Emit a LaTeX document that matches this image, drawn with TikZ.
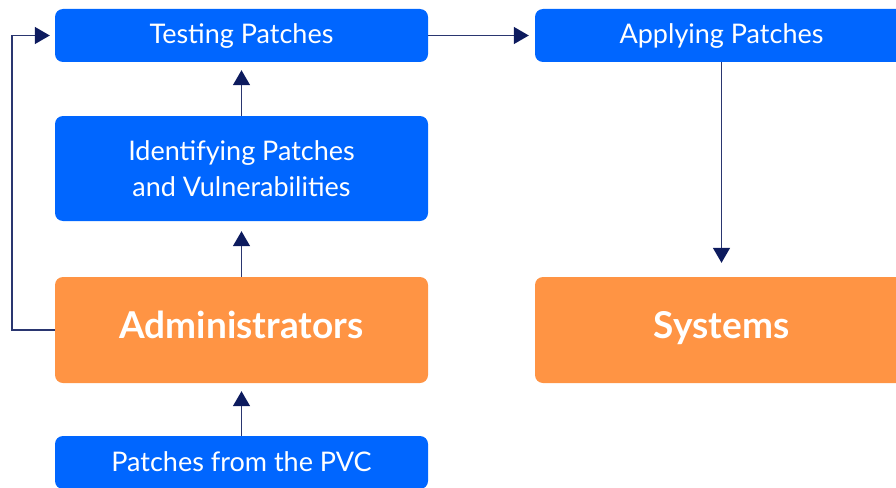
\documentclass[tikz,border=0pt]{standalone}
\usepackage{fontspec}
\setmainfont{Lato}
\usetikzlibrary{arrows.meta}
\definecolor{bblue}{HTML}{0066FF}
\definecolor{borange}{HTML}{FF9444}
\definecolor{navy}{HTML}{0D1B5E}
\definecolor{navyline}{HTML}{2A3670}
\tikzset{
  box/.style={rounded corners=8pt, minimum width=373pt, inner sep=0pt, text=white, align=center},
  bluebox/.style={box, fill=bblue, font=\fontsize{27}{36}\selectfont},
  oneline/.style={bluebox, minimum height=53pt, text height=23pt, text depth=6pt},
  orangebox/.style={box, fill=borange, minimum height=106pt, font=\fontsize{37}{40}\selectfont\bfseries, text height=24pt, text depth=8pt},
  conn/.style={draw=navyline, line width=1.5pt, -{Triangle[length=15pt,width=17pt,color=navy]}}
}
\begin{document}
\begin{tikzpicture}[x=1pt,y=-1pt]
\useasboundingbox (0,0) rectangle (896,487);
\clip (0,0) rectangle (896,487);
\node[oneline] (test) at (241.5,35.5) {Testing Patches};
\node[oneline] (apply) at (721.5,35.5) {Applying Patches};
\node[bluebox, minimum height=105pt] (ident) at (241.5,168.5) {Identifying Patches\\and Vulnerabilities};
\node[orangebox] (admin) at (241.5,330) {Administrators};
\node[orangebox] (sys) at (721.5,330) {Systems};
\node[oneline] (pvc) at (241.5,462.5) {Patches from the PVC};
\coordinate (lc) at (12,0);
\draw[conn, shorten >=8pt] (pvc.north) -- (admin.south);
\draw[conn, shorten >=10pt] (admin.north) -- (ident.south);
\draw[conn, shorten >=8pt] (ident.north) -- (test.south);
\draw[conn, shorten >=6pt] (test.east) -- (apply.west);
\draw[conn, shorten >=14pt] (apply.south -| sys.north) -- (sys.north);
\draw[conn, shorten >=5pt] (admin.west) -- (admin.west -| lc) -- (test.west -| lc) -- (test.west);
\end{tikzpicture}
\end{document}
